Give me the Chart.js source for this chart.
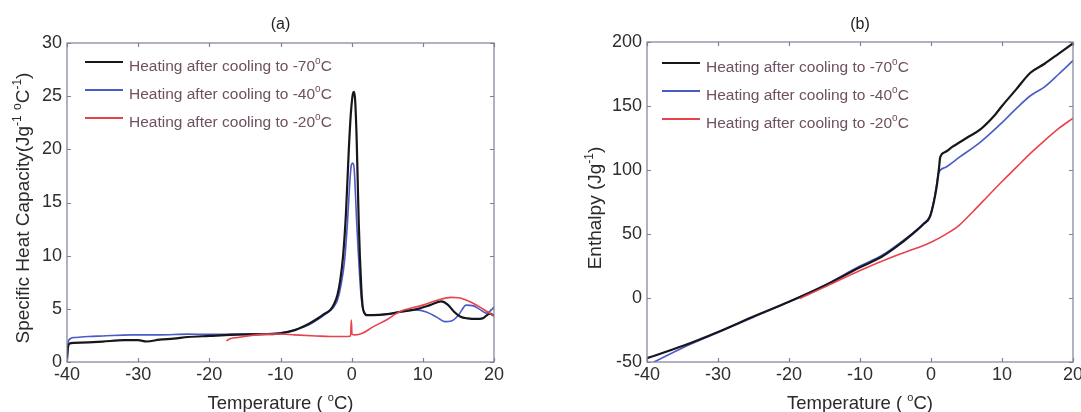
<!DOCTYPE html>
<html>
<head>
<meta charset="utf-8">
<script src="https://cdn.jsdelivr.net/npm/chart.js@4.4.1/dist/chart.umd.min.js"></script>
<style>
  body { margin: 0; background: #fff; width: 1081px; height: 412px; overflow: hidden; position: relative; }
  canvas { position: absolute; top: 0; }
  #cpChart { left: 0; width: 540px; height: 412px; }
  #enthChart { left: 540px; width: 560px; height: 412px; }
</style>
</head>
<body>
<canvas id="cpChart" width="540" height="412"></canvas>
<canvas id="enthChart" width="560" height="412"></canvas>
<script>
const FONT = '"Liberation Sans", Arial, Helvetica, sans-serif'

const seriesLabels = ['Heating after cooling to -70', 'Heating after cooling to -40', 'Heating after cooling to -20']
const seriesColors = ['#16161c', '#4b5bc6', '#e8434d']
const seriesWidths = [2.2, 1.6, 1.6]

const tempTicks = [-40, -30, -20, -10, 0, 10, 20]
const cpTicks = [0, 5, 10, 15, 20, 25, 30]
const enthTicks = [-50, 0, 50, 100, 150, 200]

// (a) specific heat capacity, Jg-1 C-1
const cpTemp70 = [-40, -39.85, -39.6, -39, -37, -35, -32, -30, -28.8, -27, -25, -23, -20, -17, -14, -12, -10, -8, -6, -5, -4, -3, -2.5, -2, -1.6, -1.2, -0.8, -0.4, -0.1, 0.2, 0.35, 0.5, 0.7, 0.85, 1.0, 1.15, 1.35, 1.55, 1.8, 2.1, 3, 5, 7, 9, 11, 12.6, 13.5, 14.5, 15.3, 16.3, 17.5, 18.4, 19.4, 20]
const cpVal70 = [0.2, 1.45, 1.75, 1.8, 1.85, 1.92, 2.05, 2.05, 1.93, 2.1, 2.2, 2.35, 2.45, 2.55, 2.6, 2.62, 2.7, 3.0, 3.6, 4.0, 4.45, 4.9, 5.4, 6.3, 7.7, 10, 14, 20, 23.5, 25.3, 25.4, 24.5, 21, 17, 13, 10, 7, 5.2, 4.6, 4.4, 4.4, 4.5, 4.73, 4.95, 5.35, 5.7, 5.4, 4.65, 4.25, 4.1, 4.05, 4.1, 4.55, 4.35]

const cpTemp40 = [-40, -39.8, -39, -37, -35, -31, -27, -23, -20, -17, -14, -12, -10, -8, -6, -5, -4, -3, -2.5, -2, -1.5, -1.0, -0.6, -0.3, -0.05, 0.15, 0.35, 0.55, 0.75, 1.0, 1.25, 1.5, 1.8, 2.1, 3, 5, 7, 9, 10.5, 12, 13.1, 14, 15, 16.1, 17, 18, 18.9, 19.5, 20]
const cpVal40 = [0.2, 2.0, 2.3, 2.4, 2.45, 2.55, 2.55, 2.62, 2.6, 2.62, 2.65, 2.65, 2.75, 3.0, 3.5, 3.9, 4.35, 4.85, 5.2, 5.8, 7.2, 9.5, 13, 16.5, 18.5, 18.7, 18.2, 15.5, 12.5, 9.5, 6.8, 5.2, 4.6, 4.45, 4.4, 4.5, 4.75, 4.9, 4.7, 4.2, 3.8, 3.85, 4.4, 5.35, 5.3, 4.95, 4.6, 4.8, 5.2]

const cpTemp20 = [-17.6, -17, -16, -14, -12, -10, -8, -5, -3, -1, -0.15, -0.05, 0.05, 0.5, 1.5, 3, 5, 6, 7, 10, 12, 14, 15, 17, 19, 20]
const cpVal20 = [2.0, 2.2, 2.3, 2.5, 2.62, 2.63, 2.55, 2.45, 2.4, 2.4, 2.45, 3.95, 2.6, 2.55, 2.7, 3.3, 4.0, 4.45, 4.8, 5.35, 5.8, 6.08, 6.05, 5.55, 4.75, 4.3]

// (b) enthalpy, Jg-1
const hTemp70 = [-40, -35, -30, -25, -20, -15, -10, -7, -5, -2.5, -1, -0.15, 0.4, 0.8, 1.1, 1.3, 2, 3, 5, 7, 9, 10, 12, 14, 16, 18, 20]
const hVal70 = [-47, -37.5, -26.5, -14.5, -3, 9.5, 24, 32, 39.5, 50.5, 58, 63.5, 75, 87, 100, 110, 114, 118, 125, 132, 143, 150, 163, 176, 183, 191, 199]

const hTemp40 = [-40, -39, -35, -30, -25, -20, -15, -10, -7, -5, -2.5, -1, -0.15, 0.4, 0.8, 1.05, 2, 4, 7, 10, 12, 14, 16, 18, 20]
const hVal40 = [-53, -50, -39, -27, -15, -3, 10, 25, 33, 40.5, 51, 58.5, 64, 76, 89, 97.5, 102, 110, 122, 137, 148, 158, 165, 175, 185.5]

const hTemp20 = [-18.5, -15, -10, -5, -2, 0, 2, 4, 6, 8, 10, 12, 14, 16, 18, 20]
const hVal20 = [-0.5, 8.5, 21.5, 33, 39, 43.5, 49.5, 57, 68, 79.5, 91, 102, 113, 123, 132.5, 140.5]

const toPoints = (xs, ys) => xs.map((x, i) => ({ x, y: ys[i] }))

const makeDatasets = (series) => series.map((pts, i) => ({
  label: seriesLabels[i],
  data: pts,
  borderColor: seriesColors[i],
  borderWidth: seriesWidths[i],
  pointRadius: 0,
  showLine: true,
  fill: false,
  cubicInterpolationMode: 'monotone',
  order: i === 2 ? 0 : (i === 0 ? 1 : 2)
}))

// draws text pieces, some raised as superscripts
const drawRich = (ctx, parts, x, y, size, align, color) => {
  const widths = parts.map(([t, sup]) => {
    ctx.font = `${sup ? Math.round(size * 0.62) : size}px ${FONT}`
    return ctx.measureText(t).width
  })
  const total = widths.reduce((a, b) => a + b, 0)
  let cx = align === 'center' ? x - total / 2 : x
  ctx.fillStyle = color
  ctx.textAlign = 'left'
  ctx.textBaseline = 'alphabetic'
  parts.forEach(([t, sup], i) => {
    ctx.font = `${sup ? Math.round(size * 0.62) : size}px ${FONT}`
    ctx.fillText(t, cx, sup ? y - size * 0.42 : y)
    cx += widths[i]
  })
}

const framePlugin = {
  id: 'frame',
  afterDatasetsDraw(chart, args, opts) {
    const { ctx, chartArea: a, scales: { x, y } } = chart
    ctx.save()
    ctx.strokeStyle = '#7f8098'
    ctx.lineWidth = 1.2
    ctx.strokeRect(a.left, a.top, a.width, a.height)
    ctx.beginPath()
    x.ticks.forEach(t => {
      const px = Math.round(x.getPixelForValue(t.value)) + 0.5
      ctx.moveTo(px, a.bottom); ctx.lineTo(px, a.bottom - 4)
      ctx.moveTo(px, a.top); ctx.lineTo(px, a.top + 4)
    })
    y.ticks.forEach(t => {
      const py = Math.round(y.getPixelForValue(t.value)) + 0.5
      ctx.moveTo(a.left, py); ctx.lineTo(a.left + 4, py)
      ctx.moveTo(a.right, py); ctx.lineTo(a.right - 4, py)
    })
    ctx.stroke()

    // legend inside the plot
    chart.data.datasets.forEach((ds, i) => {
      const ly = a.top + opts.legendY + i * 28
      const lx = a.left + opts.legendX
      ctx.strokeStyle = ds.borderColor
      ctx.lineWidth = 2
      ctx.beginPath()
      ctx.moveTo(lx, ly); ctx.lineTo(lx + 38, ly)
      ctx.stroke()
      drawRich(ctx, [[ds.label], ['o', true], ['C']], lx + 44, ly + 9, 15.5, 'left', '#6e5060')
    })

    // panel title
    drawRich(ctx, [[opts.title]], (a.left + a.right) / 2, 29, 16, 'center', '#222')

    // x axis title
    drawRich(ctx, [['Temperature ( '], ['o', true], ['C)']], (a.left + a.right) / 2, 409, 18.5, 'center', '#2a2a2a')

    // y axis title, rotated
    ctx.translate(opts.yTitleX, 208)
    ctx.rotate(-Math.PI / 2)
    drawRich(ctx, opts.yTitle, 0, 0, 19, 'center', '#2a2a2a')
    ctx.restore()
  }
}

const makeOptions = (yTicks, yMin, yMax, yWidth, padTop, padRight, pluginOpts) => ({
  responsive: false,
  animation: false,
  layout: { padding: { left: 0, right: padRight, top: padTop, bottom: 0 } },
  plugins: { legend: { display: false }, tooltip: { enabled: false }, frame: pluginOpts },
  scales: {
    x: {
      type: 'linear',
      min: -40,
      max: 20,
      afterBuildTicks: s => { s.ticks = tempTicks.map(v => ({ value: v })) },
      afterFit: s => { s.height = 50 },
      grid: { display: false, drawTicks: false },
      border: { display: false },
      ticks: { color: '#2e2e2e', font: { family: FONT, size: 18 }, padding: 2, maxRotation: 0 }
    },
    y: {
      type: 'linear',
      min: yMin,
      max: yMax,
      afterBuildTicks: s => { s.ticks = yTicks.map(v => ({ value: v })) },
      afterFit: s => { s.width = yWidth },
      grid: { display: false, drawTicks: false },
      border: { display: false },
      ticks: { color: '#2e2e2e', font: { family: FONT, size: 18 }, padding: 5 }
    }
  }
})

new Chart(document.getElementById('cpChart'), {
  type: 'scatter',
  data: {
    datasets: makeDatasets([
      toPoints(cpTemp70, cpVal70),
      toPoints(cpTemp40, cpVal40),
      toPoints(cpTemp20, cpVal20)
    ])
  },
  options: makeOptions(cpTicks, 0, 30, 67, 43, 46, {
    title: '(a)',
    legendX: 18,
    legendY: 19,
    yTitleX: 29,
    yTitle: [['Specific Heat Capacity(Jg'], ['-1', true], [' '], ['o', true], ['C'], ['-1', true], [')']]
  }),
  plugins: [framePlugin]
})

new Chart(document.getElementById('enthChart'), {
  type: 'scatter',
  data: {
    datasets: makeDatasets([
      toPoints(hTemp70, hVal70),
      toPoints(hTemp40, hVal40),
      toPoints(hTemp20, hVal20)
    ])
  },
  options: makeOptions(enthTicks, -50, 200, 107, 42, 27, {
    title: '(b)',
    legendX: 15,
    legendY: 21,
    yTitleX: 61,
    yTitle: [['Enthalpy (Jg'], ['-1', true], [')']]
  }),
  plugins: [framePlugin]
})
</script>
</body>
</html>
